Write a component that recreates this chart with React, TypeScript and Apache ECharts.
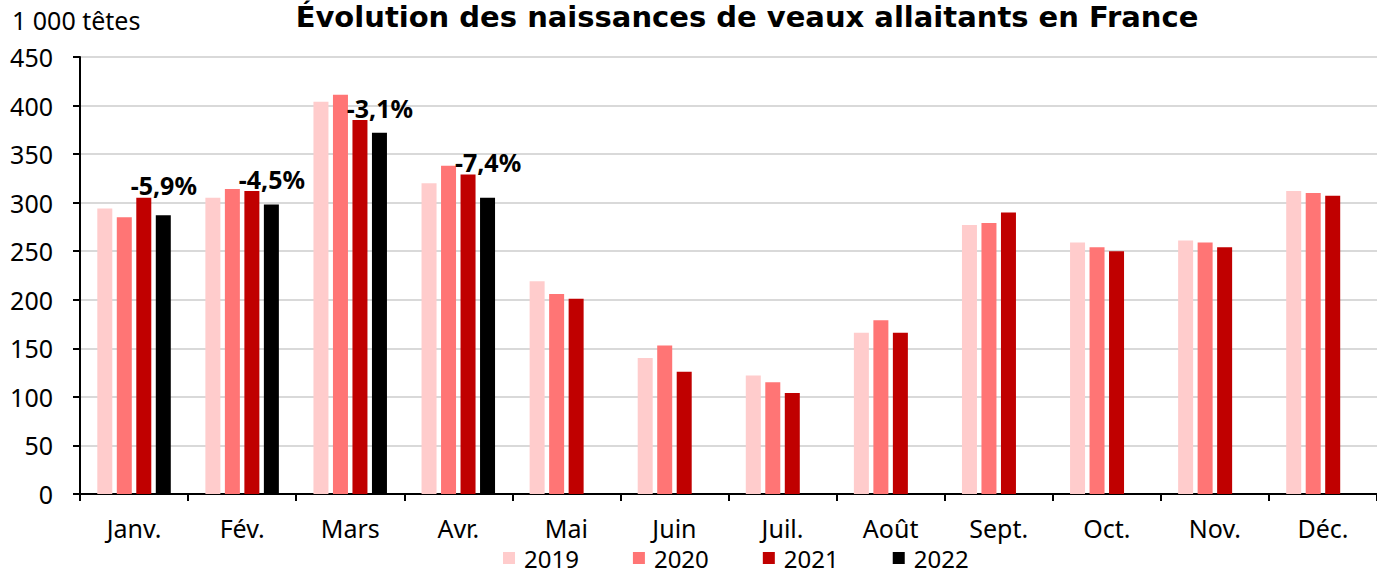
import React, { useEffect, useRef } from "react";
import * as echarts from "echarts";

const months = ["Janv.", "Fév.", "Mars", "Avr.", "Mai", "Juin", "Juil.", "Août", "Sept.", "Oct.", "Nov.", "Déc."];
const v2019 = [294, 305, 404, 320, 219, 140, 122, 166, 277, 259, 261, 312];
const v2020 = [285, 314, 411, 338, 206, 153, 115, 179, 279, 254, 259, 310];
const v2021 = [305, 312, 385, 329, 201, 126, 104, 166, 290, 250, 254, 307];
const v2022 = [287, 298, 372, 305, null, null, null, null, null, null, null, null];
const pctLabels = ["-5,9%", "-4,5%", "-3,1%", "-7,4%", "", "", "", "", "", "", "", ""];
const yTicks = [0, 50, 100, 150, 200, 250, 300, 350, 400, 450];

const FONT = "Noto Sans";
const TITLE_FONT = "DejaVu Sans";

export default function App() {
  const ref = useRef<HTMLDivElement>(null);
  useEffect(() => {
    const chart = echarts.init(ref.current!, null, { renderer: "svg" });
    const mk = (name: string, data: (number | null)[], color: string, label?: boolean) => ({
      name,
      type: "bar",
      data,
      barWidth: 15,
      barGap: "30%",
      itemStyle: { color },
      label: label
        ? {
            show: true,
            position: "top",
            distance: 0,
            offset: [20, 0],
            fontFamily: FONT,
            fontWeight: "bold",
            fontSize: 25,
            color: "#000",
            formatter: (p: any) => pctLabels[p.dataIndex],
          }
        : { show: false },
    });
    chart.setOption({
      animation: false,
      textStyle: { fontFamily: FONT },
      grid: { left: 80, top: 57, bottom: 80, width: 1305, containLabel: false },
      graphic: [
        {
          type: "text",
          x: 12,
          y: 20,
          style: { text: "1 000 têtes", font: `25px "${FONT}"`, fill: "#000", textVerticalAlign: "middle" },
        },
        {
          type: "text",
          x: 747,
          y: 17,
          style: {
            text: "Évolution des naissances de veaux allaitants en France",
            font: `bold 29px "${TITLE_FONT}"`,
            fill: "#000",
            textAlign: "center",
            textVerticalAlign: "middle",
          },
        },
      ],
      legend: {
        left: 503,
        top: 546,
        padding: 0,
        itemWidth: 12,
        itemHeight: 12,
        itemGap: 54,
        icon: "rect",
        textStyle: { fontFamily: FONT, fontSize: 24, lineHeight: 24, color: "#000", padding: [0, 0, 0, 4] },
        data: ["2019", "2020", "2021", "2022"],
      },
      xAxis: {
        type: "category",
        data: months,
        axisLine: { lineStyle: { color: "#000", width: 2 } },
        axisTick: { show: true, length: 7, lineStyle: { color: "#000", width: 2 } },
        axisLabel: { fontFamily: FONT, fontSize: 25, color: "#000", margin: 21 },
      },
      yAxis: {
        type: "value",
        min: 0,
        max: 450,
        interval: 50,
        axisLine: { show: true, lineStyle: { color: "#000", width: 2 } },
        axisTick: { show: true, length: 7, lineStyle: { color: "#000", width: 2 } },
        axisLabel: {
          fontFamily: FONT,
          fontSize: 25,
          color: "#000",
          margin: 27,
          formatter: (v: number) => (yTicks.includes(v) ? String(v) : ""),
        },
        splitLine: { lineStyle: { color: "#d9d9d9", width: 2 } },
      },
      series: [
        mk("2019", v2019, "#FFCCCC"),
        mk("2020", v2020, "#FF7575"),
        mk("2021", v2021, "#C00000", true),
        mk("2022", v2022, "#000000"),
      ],
    });
    return () => chart.dispose();
  }, []);
  return <div ref={ref} style={{ position: "fixed", left: 0, top: 0, width: 1377, height: 574, background: "#fff" }} />;
}
